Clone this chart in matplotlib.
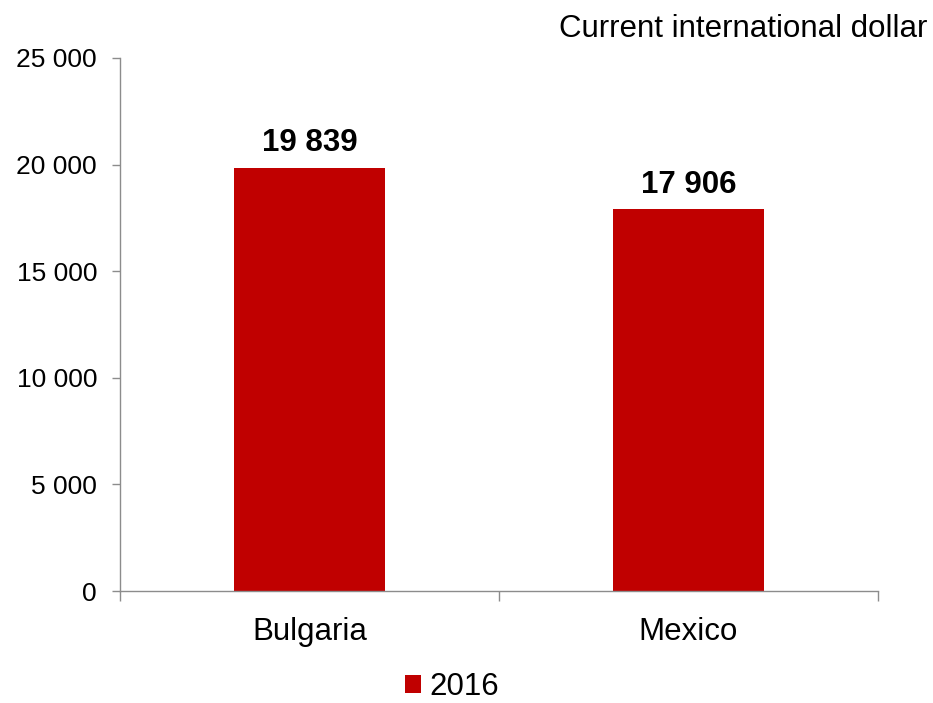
import matplotlib
matplotlib.use("Agg")
from matplotlib import pyplot as plt

# data
countries = ["Bulgaria", "Mexico"]
values_2016 = [19839, 17906]
y_ticks = [0, 5000, 10000, 15000, 20000, 25000]
y_tick_labels = ["0", "5 000", "10 000", "15 000", "20 000", "25 000"]
series_name = "2016"
unit_text = "Current international dollar"

plt.rcParams["font.family"] = ["Liberation Sans", "DejaVu Sans"]

red = "#C00000"
grey = "#8C8C8C"

fig = plt.figure(figsize=(9.33, 7.03), dpi=100)
ax = fig.add_axes([0.1286, 0.1593, 0.9411 - 0.1286, 0.9175 - 0.1593])

x = list(range(len(countries)))
bars = ax.bar(x, values_2016, width=0.4, color=red, label=series_name, zorder=2)

for xi, v in zip(x, values_2016):
    lbl = "{:,}".format(v).replace(",", " ")
    ax.annotate(lbl, (xi, v), xytext=(0, 12), textcoords="offset points",
                ha="center", va="baseline", fontsize=22.5, fontweight="bold")

ax.set_xlim(-0.5, len(countries) - 0.5)
ax.set_ylim(0, 25000)
ax.set_yticks(y_ticks)
ax.set_yticklabels(y_tick_labels)
ax.set_xticks(x)
ax.set_xticklabels(countries)
ax.set_xticks([i - 0.5 for i in range(len(countries) + 1)], minor=True)

ax.tick_params(axis="y", direction="out", length=6, width=1, color=grey,
               labelsize=19, pad=10.5)
ax.tick_params(axis="x", which="major", length=0, labelsize=22.5, pad=18.5)
ax.tick_params(axis="x", which="minor", direction="out", length=7, width=1, color=grey)

for side in ["top", "right"]:
    ax.spines[side].set_visible(False)
for side in ["left", "bottom"]:
    ax.spines[side].set_color(grey)
    ax.spines[side].set_linewidth(1)

fig.text(927 / 933, 1 - 37 / 703, unit_text, ha="right", va="baseline", fontsize=22.5)

fig.legend(loc="center", bbox_to_anchor=(452 / 933, 1 - 687 / 703), frameon=False,
           fontsize=22.5, handlelength=0.52, handleheight=0.5, handletextpad=0.25,
           borderpad=0.1)

plt.savefig("out.png", dpi=100)
plt.close()
